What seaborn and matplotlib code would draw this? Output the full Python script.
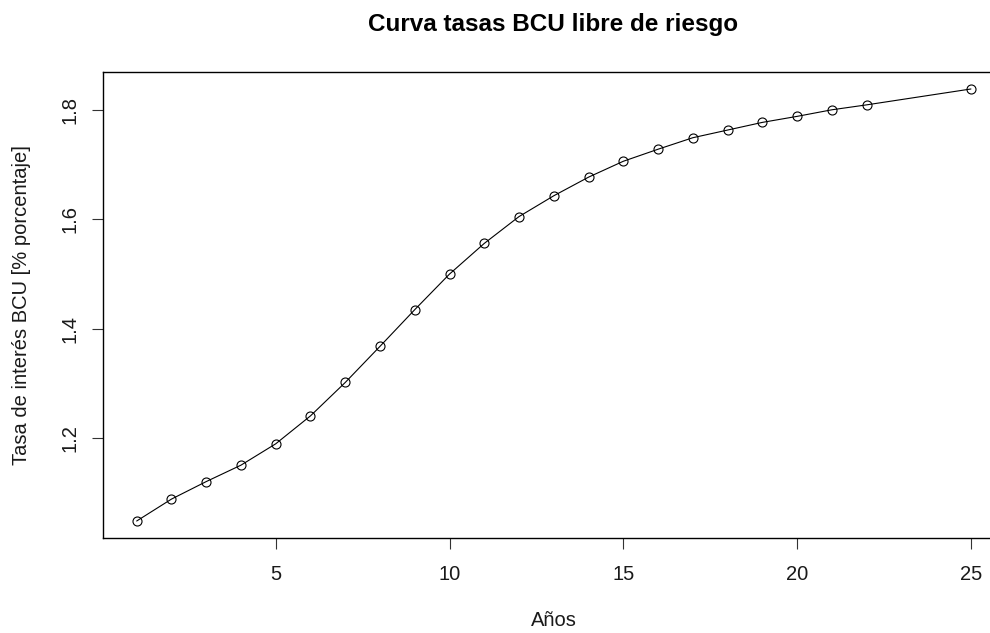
import matplotlib
matplotlib.use("Agg")
import matplotlib.pyplot as plt
import seaborn as sns
import pandas as pd
import numpy as np

anios = [1, 2, 3, 4, 5, 6, 7, 8, 9, 10, 11, 12, 13, 14, 15, 16, 17, 18, 19, 20, 21, 22, 25]
tasas = [1.049, 1.089, 1.121, 1.151, 1.190, 1.241, 1.302, 1.368, 1.435, 1.500, 1.556, 1.605,
         1.643, 1.677, 1.706, 1.728, 1.749, 1.763, 1.777, 1.788, 1.800, 1.809, 1.838]
x_ticks = [5, 10, 15, 20, 25]
y_ticks = [1.2, 1.4, 1.6, 1.8]

titulo = "Curva tasas BCU libre de riesgo"
xlab = "Años"
ylab = "Tasa de interés BCU [% porcentaje]"

sns.set_style("ticks")
plt.rcParams['font.family'] = ['Liberation Sans', 'DejaVu Sans']

df = pd.DataFrame({"anios": anios, "tasas": tasas})

fig = plt.figure(figsize=(9.9, 6.33), dpi=100)
ax = fig.add_axes([103.3 / 990, (633 - 538.3) / 633, (1004.3 - 103.3) / 990, (538.3 - 71.7) / 633])

sns.lineplot(data=df, x="anios", y="tasas", ax=ax, color="black", linewidth=0.8,
             marker="o", markersize=6.5, markerfacecolor="none", markeredgecolor="black",
             markeredgewidth=0.8)

# R-style 4% padding
xr = max(anios) - min(anios)
yr = max(tasas) - min(tasas)
ax.set_xlim(min(anios) - 0.04 * xr, max(anios) + 0.04 * xr)
ax.set_ylim(min(tasas) - 0.04 * yr, max(tasas) + 0.04 * yr)

ax.set_xticks(x_ticks)
ax.set_yticks(y_ticks)
ax.set_yticklabels([f"{v:.1f}" for v in y_ticks], rotation=90, va="center")
ax.tick_params(axis="both", length=8.0, width=0.8, labelsize=14.5, color="#333333",
               labelcolor="#1a1a1a")
ax.tick_params(axis="x", pad=11)
ax.tick_params(axis="y", pad=9)
for sp in ax.spines.values():
    sp.set_linewidth(1.0)
    sp.set_color("black")

ax.set_xlabel(xlab, fontsize=14.5, color="#1a1a1a", labelpad=20)
ax.set_ylabel(ylab, fontsize=14.5, color="#1a1a1a")
ax.yaxis.set_label_coords(-(103.3 - 31) / 901, 0.5)
fig.text(553 / 990, 1 - 24 / 633, titulo, ha="center", va="center",
         fontsize=17.5, fontweight="bold", color="black")

fig.savefig("out.png", dpi=100)
